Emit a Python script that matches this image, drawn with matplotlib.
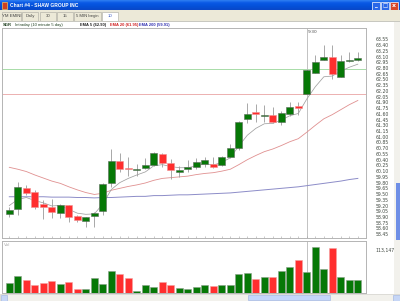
import matplotlib
matplotlib.use("Agg")
import matplotlib.pyplot as plt
from matplotlib.patches import Rectangle
from matplotlib.ticker import FixedLocator, FuncFormatter
from matplotlib.colors import LinearSegmentedColormap
import numpy as np

# ---------------- data ----------------
opens  = [58.99,59.10,59.65,59.56,59.24,59.17,59.01,59.21,58.92,58.79,58.93,59.06,59.78,60.36,60.17,60.12,60.17,60.26,60.55,60.32,60.08,
          60.15,60.20,60.29,60.30,60.26,60.48,60.70,61.46,61.65,61.54,61.56,61.38,61.60,61.81,62.13,62.68,63.00,63.09,62.57,62.98,63.01]
highs  = [59.17,59.81,59.74,59.61,59.35,59.36,59.24,59.22,58.94,58.91,59.04,59.78,60.67,60.58,60.48,60.30,60.45,60.60,60.57,60.43,60.23,
          60.39,60.44,60.48,60.48,60.49,60.81,61.41,61.89,61.87,61.83,61.78,61.67,61.90,61.90,62.75,63.15,63.39,63.39,63.15,63.22,63.22]
lows   = [58.90,58.96,59.48,59.12,58.84,58.87,58.87,58.78,58.77,58.65,58.65,58.96,59.68,60.09,59.97,59.97,60.15,60.23,60.22,59.89,59.94,
          60.08,60.16,60.22,60.18,60.23,60.44,60.65,61.35,61.39,61.39,61.35,61.30,61.55,61.58,62.13,62.68,63.00,62.50,62.57,62.96,62.98]
closes = [59.09,59.68,59.52,59.16,59.16,59.02,59.21,58.90,58.82,58.90,59.01,59.76,60.37,60.15,60.15,60.16,60.25,60.57,60.32,60.13,60.12,
          60.20,60.33,60.39,60.20,60.46,60.70,61.39,61.59,61.59,61.57,61.38,61.61,61.77,61.74,62.74,62.96,63.09,62.63,62.98,63.02,63.05]
volumes = [25900,44100,32800,19900,25900,31100,22500,27600,9500,9500,38000,22500,57000,50100,38900,4300,19900,16400,28500,20700,12100,
           10400,14700,19900,18100,19900,21600,48400,51800,37200,40600,40600,57900,68300,85500,53600,119200,61300,115800,41500,34600,32800]
ema5 = [59.20,59.36,59.41,59.33,59.27,59.19,59.20,59.10,59.00,58.97,58.98,59.24,59.62,59.80,59.91,60.00,60.08,60.24,60.27,60.22,60.19,
        60.19,60.24,60.29,60.26,60.33,60.45,60.76,61.04,61.22,61.34,61.35,61.44,61.55,61.61,61.99,62.31,62.57,62.59,62.72,62.82,62.90]
ema20 = [60.20,60.15,60.09,60.00,59.92,59.84,59.78,59.69,59.61,59.54,59.49,59.52,59.60,59.65,59.70,59.74,59.79,59.86,59.91,59.93,59.95,
         59.97,60.01,60.04,60.06,60.10,60.15,60.27,60.40,60.51,60.61,60.68,60.77,60.87,60.95,61.12,61.30,61.47,61.58,61.71,61.84,61.95]
ema200 = [59.43,59.43,59.43,59.43,59.43,59.42,59.42,59.42,59.41,59.41,59.40,59.41,59.41,59.42,59.43,59.44,59.44,59.46,59.46,59.47,59.48,
          59.48,59.49,59.50,59.51,59.52,59.53,59.55,59.57,59.59,59.61,59.63,59.65,59.67,59.69,59.72,59.75,59.78,59.81,59.84,59.88,59.91]
price_ticks = [58.45,58.60,58.75,58.90,59.05,59.20,59.35,59.50,59.65,59.80,59.95,60.10,60.25,60.40,60.55,60.70,60.85,61.00,
               61.15,61.30,61.45,61.60,61.75,61.90,62.05,62.20,62.35,62.50,62.65,62.80,62.95,63.10,63.25,63.40,63.55]
vol_tick = [113147]
green_level = 62.77
red_level = 62.13
session_start = 35
session_label = "9:30"
title = "Chart #4 - SHAW GROUP INC"
tabs = ["YM EMINI", "Daily", "30", "15", "5 MIN begin", "10"]
symbol = "SGR"
interval = "Intraday (10 minute 5 day)"
ema_labels = ["EMA 5 (62.90)", "EMA 20 (61.95)", "EMA 200 (59.91)"]

UI = "Liberation Sans"

# ---------------- figure ----------------
W, H = 400, 301
fig = plt.figure(figsize=(W/100, H/100), dpi=100)
fig.patch.set_facecolor("white")

def fx(x):
    return x / W

def fy(y):
    return 1 - y / H

def rect(x0, y0, x1, y1, **kw):
    fig.patches.append(Rectangle((fx(x0), fy(y1)), (x1-x0)/W, (y1-y0)/H,
                                 transform=fig.transFigure, figure=fig, **kw))

# title bar (gradient)
ax_t = fig.add_axes([0, fy(10.5), 1, 10.5/H])
grad = np.linspace(0, 1, 32).reshape(-1, 1)
cm = LinearSegmentedColormap.from_list("xp", ["#3d8cf5", "#0a5ae6", "#0450d8", "#0a48c8"])
ax_t.imshow(grad, aspect="auto", cmap=cm, extent=[0, 1, 0, 1])
ax_t.set_axis_off()
rect(2, 2.5, 7.5, 8.5, facecolor="#d04020", edgecolor="#f0c060", linewidth=0.5)
fig.text(fx(9.5), fy(5.6), title, color="white", fontsize=3.5, fontweight="bold", va="center", ha="left", family=UI)
for i, c in enumerate(["#2a68e8", "#2a68e8", "#d8472a"]):
    x0 = 372 + i * 9
    rect(x0, 1.5, x0 + 8, 9.5, facecolor=c, edgecolor="white", linewidth=0.5)
fig.text(fx(376), fy(6), "_", color="white", fontsize=4, ha="center", va="center", fontweight="bold")
fig.text(fx(385), fy(5.5), "\u25a1", color="white", fontsize=4, ha="center", va="center")
fig.text(fx(394), fy(5.5), "x", color="white", fontsize=4.5, ha="center", va="center", fontweight="bold")

# toolbar
rect(0, 10.5, 400, 21.5, facecolor="#ece9d8", edgecolor="none")
tab_x = [(1.5, 21), (22, 38), (40, 56), (57, 73), (74, 101), (102, 118)]
for (a, b), t in zip(tab_x, tabs):
    active = t == "10"
    rect(a, 12, b, 20.5, facecolor="white" if active else "#ece9d8", edgecolor="#a8a8a0", linewidth=0.4)
    fig.text(fx((a + b) / 2), fy(16.4), t, fontsize=3.1, ha="center", va="center", family=UI,
             color="#3050c0" if active else "#404040")
rect(0, 21.5, 400, 22.2, facecolor="#c8c8c0", edgecolor="none")

# info row
fig.text(fx(3), fy(24.6), symbol, fontsize=3.0, color="#204020", va="center", fontweight="bold", family=UI)
fig.text(fx(15), fy(24.6), interval, fontsize=3.0, color="#204020", va="center", family=UI)
for x0, t, c in zip([80, 110, 139], ema_labels, ["#202020", "#d02020", "#3030b0"]):
    fig.text(fx(x0), fy(24.6), t, fontsize=2.9, color=c, va="center", fontweight="bold", family=UI)

# bottom scrollbar & right strip
rect(0, 294, 400, 301, facecolor="#f2f1ec", edgecolor="#c8c8c0", linewidth=0.4)
rect(0.5, 294.5, 7, 300.5, facecolor="#c6d6f6", edgecolor="#9ab0e0", linewidth=0.4)
rect(393, 294.5, 399.5, 300.5, facecolor="#c6d6f6", edgecolor="#9ab0e0", linewidth=0.4)
rect(248, 294.8, 330, 300.2, facecolor="#c4d6fb", edgecolor="#9ab0e0", linewidth=0.4)
rect(394, 22, 400, 294, facecolor="#f2f1ec", edgecolor="none")
rect(396, 183, 400, 240, facecolor="#6f8fe6", edgecolor="none")

# ---------------- price axes ----------------
idx = np.arange(len(closes))
ax = fig.add_axes([fx(2), fy(238), (366 - 2) / W, (238 - 27.5) / H])
ax_v = fig.add_axes([fx(2), fy(293), (366 - 2) / W, (293 - 241) / H])

green_c, red_c = "#067806", "#ff2e2e"
up = [c >= o for o, c in zip(opens, closes)]
colors = [green_c if u else red_c for u in up]
edges = ["#5a6a5a" if u else "#f09090" for u in up]

ax.axhline(green_level, color="#a8dca8", lw=0.7, zorder=1)
ax.axhline(red_level, color="#ecb0b0", lw=0.7, zorder=1)
ax.axvline(session_start, color="#b8b8b8", lw=0.6, zorder=1)
ax.plot(idx, ema200, color="#8c8cc8", lw=0.7, zorder=2)
ax.plot(idx, ema20, color="#e09090", lw=0.6, zorder=2)
ax.plot(idx, ema5, color="#a0a0a0", lw=0.55, zorder=4)
ax.vlines(idx, lows, highs, color="#9a9a9a", lw=0.6, zorder=3)
bh = [max(abs(c - o), 0.012) for o, c in zip(opens, closes)]
bb = [min(o, c) for o, c in zip(opens, closes)]
ax.bar(idx, bh, bottom=bb, width=0.86, color=colors, edgecolor=edges, linewidth=0.4, zorder=5)

ax.set_xlim(-0.86, 41.96)
ax.set_ylim(58.35, 63.86)
ax.yaxis.set_major_locator(FixedLocator(price_ticks))
ax.yaxis.set_major_formatter(FuncFormatter(lambda v, p: "%.2f" % v))
ax.tick_params(axis="y", left=False, labelleft=False, right=False, labelright=True,
               labelsize=3.3, pad=3.5, labelcolor="#404840")
ax.set_xticks(idx)
ax.tick_params(axis="x", direction="in", length=1.8, width=0.4, color="#a0a0a0", labelbottom=False)
for s in ax.spines.values():
    s.set_color("#b4b4b4")
    s.set_linewidth(0.7)
ax.text(session_start + 0.05, 63.80, session_label, fontsize=3.2, color="#505050", va="top", ha="left")

# ---------------- volume axes ----------------
ax_v.axvline(session_start, color="#b8b8b8", lw=0.6, zorder=1)
ax_v.bar(idx, volumes, width=0.86, color=colors, edgecolor=["#8aa08a" if u else "#f4a0a0" for u in up],
         linewidth=0.4, zorder=3)
ax_v.set_xlim(-0.86, 41.96)
ax_v.set_ylim(0, 134700)
ax_v.yaxis.set_major_locator(FixedLocator(vol_tick))
ax_v.yaxis.set_major_formatter(FuncFormatter(lambda v, p: "{:,.0f}".format(v)))
ax_v.tick_params(axis="y", left=False, labelleft=False, right=False, labelright=True,
                 labelsize=3.3, pad=3.5, labelcolor="#404840")
ax_v.set_xticks([])
for s in ax_v.spines.values():
    s.set_color("#b4b4b4")
    s.set_linewidth(0.7)
ax_v.text(0.006, 0.97, "Vol", transform=ax_v.transAxes, fontsize=3.2, color="#b0b0b0", va="top", ha="left")

fig.savefig("out.png", dpi=100, facecolor=fig.get_facecolor())
